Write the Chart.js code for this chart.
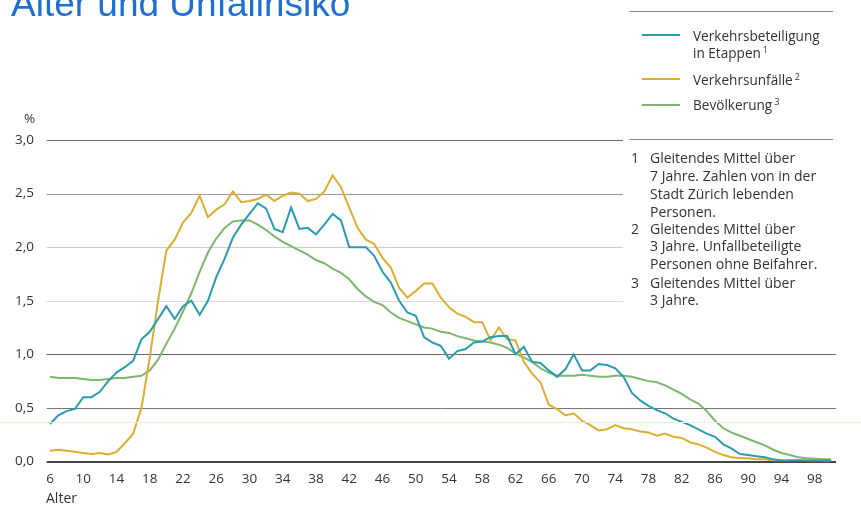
<!DOCTYPE html>
<html>
<head>
<meta charset="utf-8">
<script src="https://cdn.jsdelivr.net/npm/chart.js@4.4.1/dist/chart.umd.min.js"></script>
<style>
  html, body { margin:0; padding:0; background:#fff; }
  #wrap { position:relative; width:861px; height:506px; overflow:hidden; font-family:"Open Sans", sans-serif; color:#333; }
  canvas { position:absolute; left:0; top:0; }
  .abs { position:absolute; white-space:nowrap; }
  #title { left:11px; top:-14.8px; font-family:"Liberation Sans", Arial, sans-serif; font-size:37px; line-height:37px; color:#1e6fd4; }
  .hl { position:absolute; height:1px; background:#8a8a8a; }
  .leg { position:absolute; left:693px; font-size:13.6px; line-height:17px; color:#333; }
  .sw { position:absolute; left:642px; width:38px; height:2px; }
  sup { font-size:9px; vertical-align:0; position:relative; top:-5px; margin-left:2px; }
  .note { position:absolute; left:630px; font-size:14px; line-height:17.95px; color:#333; }
  .note .n { position:absolute; left:1px; }
  .note .t { margin-left:20px; }
</style>
</head>
<body>
<div id="wrap">
  <canvas id="c" width="861" height="506"></canvas>
  <div id="title" class="abs">Alter und Unfallrisiko</div>
  <div class="abs" style="left:0;top:422px;width:861px;height:1px;background:#dcf6d2;"></div>
  <div class="hl" style="left:629px;top:11px;width:204px;"></div>
  <div class="hl" style="left:629px;top:139px;width:204px;"></div>
  <div class="sw" style="top:33.5px;background:#2b9bb2;"></div>
  <div class="sw" style="top:78px;background:#dcae30;"></div>
  <div class="sw" style="top:103.5px;background:#7db66f;"></div>
  <div class="leg" style="top:27px;">Verkehrsbeteiligung<br>in Etappen<sup>1</sup></div>
  <div class="leg" style="top:71px;">Verkehrsunfälle<sup>2</sup></div>
  <div class="leg" style="top:96px;">Bevölkerung<sup>3</sup></div>
  <div class="note" style="top:149px;"><span class="n">1</span><div class="t">Gleitendes Mittel über<br>7 Jahre. Zahlen von in der<br>Stadt Zürich lebenden<br>Personen.</div></div>
  <div class="note" style="top:219.5px;"><span class="n">2</span><div class="t">Gleitendes Mittel über<br>3 Jahre. Unfallbeteiligte<br>Personen ohne Beifahrer.</div></div>
  <div class="note" style="top:273.5px;"><span class="n">3</span><div class="t">Gleitendes Mittel über<br>3 Jahre.</div></div>
  <div class="abs" style="left:24px;top:109px;font-size:13.5px;line-height:18px;">%</div>
  <div class="abs" style="left:46px;top:489px;font-size:14px;line-height:18px;">Alter</div>
</div>
<script>
const ages = [];
for (let a = 6; a <= 100; a++) ages.push(a);

const verkehrsbeteiligung = [
  0.35,0.43,0.47,0.49,0.60,0.60,0.65,0.75,0.83,0.88,
  0.94,1.14,1.21,1.33,1.45,1.33,1.45,1.50,1.37,1.50,
  1.72,1.89,2.09,2.21,2.31,2.41,2.36,2.17,2.14,2.37,
  2.17,2.18,2.12,2.21,2.31,2.25,2.00,2.00,2.00,1.92,
  1.77,1.67,1.50,1.39,1.36,1.16,1.11,1.08,0.96,1.03,
  1.05,1.11,1.12,1.16,1.17,1.17,1.00,1.07,0.93,0.92,
  0.85,0.79,0.86,1.00,0.85,0.85,0.91,0.90,0.87,0.79,
  0.64,0.57,0.52,0.48,0.45,0.40,0.37,0.34,0.30,0.26,
  0.23,0.16,0.12,0.07,0.06,0.05,0.04,0.02,0.01,0.01,
  0.01,0.01,0.01,0.01,0.01
];
const verkehrsunfaelle = [
  0.10,0.11,0.10,0.09,0.08,0.07,0.08,0.065,0.09,0.17,
  0.26,0.50,0.97,1.50,1.97,2.07,2.23,2.32,2.48,2.28,
  2.35,2.40,2.52,2.42,2.43,2.45,2.49,2.43,2.48,2.51,
  2.50,2.43,2.45,2.52,2.67,2.56,2.37,2.18,2.07,2.03,
  1.90,1.81,1.62,1.53,1.59,1.66,1.66,1.53,1.44,1.38,
  1.35,1.30,1.30,1.13,1.25,1.14,1.13,0.93,0.82,0.74,
  0.53,0.49,0.43,0.45,0.38,0.34,0.29,0.30,0.34,0.31,
  0.30,0.28,0.27,0.24,0.26,0.23,0.22,0.18,0.16,0.13,
  0.09,0.06,0.04,0.03,0.03,0.02,0.02,0.01,0.01,0.01,
  0.015,0.01,0.01,0.005,0.005
];
const bevoelkerung = [
  0.79,0.78,0.78,0.78,0.77,0.76,0.76,0.77,0.78,0.78,
  0.79,0.80,0.85,0.95,1.10,1.24,1.40,1.57,1.77,1.95,
  2.08,2.18,2.24,2.25,2.25,2.21,2.16,2.10,2.05,2.01,
  1.97,1.93,1.88,1.85,1.80,1.76,1.70,1.61,1.54,1.49,
  1.46,1.39,1.34,1.31,1.28,1.25,1.24,1.21,1.20,1.17,
  1.15,1.13,1.12,1.11,1.09,1.06,1.01,0.97,0.93,0.87,
  0.83,0.80,0.80,0.80,0.81,0.80,0.79,0.79,0.80,0.80,
  0.79,0.77,0.75,0.74,0.71,0.67,0.63,0.58,0.54,0.47,
  0.38,0.31,0.27,0.24,0.21,0.18,0.15,0.11,0.08,0.06,
  0.04,0.03,0.025,0.02,0.02
];
const xTicks = [6,10,14,18,22,26,30,34,38,42,46,50,54,58,62,66,70,74,78,82,86,90,94,98];
const yTicks = [0,0.5,1,1.5,2,2.5,3];

const pts = arr => ages.map((a, i) => ({ x: a, y: arr[i] }));

const gridColors = { 0:'#444', 0.5:'#777', 1:'#686868', 1.5:'#dcdcdc', 2:'#cdcdcd', 2.5:'#9a9a9a', 3:'#6a6a6a' };

const gridPlugin = {
  id: 'customGrid',
  beforeDatasetsDraw(chart) {
    const ctx = chart.ctx, y = chart.scales.y, area = chart.chartArea;
    ctx.save();
    yTicks.forEach(v => {
      const py = Math.round(y.getPixelForValue(v)) + (v === 0 ? 0 : 0.5);
      ctx.beginPath();
      ctx.strokeStyle = gridColors[v];
      ctx.lineWidth = v === 0 ? 2 : 1;
      ctx.moveTo(area.left - 3.3, py);
      ctx.lineTo(v >= 1.5 ? 623 : area.right + 4.6, py);
      ctx.stroke();
    });
    ctx.restore();
  }
};

new Chart(document.getElementById('c'), {
  type: 'line',
  data: {
    datasets: [
      { label: 'Verkehrsbeteiligung in Etappen', data: pts(verkehrsbeteiligung), borderColor: '#2b9bb2', borderWidth: 2, pointRadius: 0, tension: 0, fill: false },
      { label: 'Verkehrsunfälle', data: pts(verkehrsunfaelle), borderColor: '#dcae30', borderWidth: 2, pointRadius: 0, tension: 0, fill: false },
      { label: 'Bevölkerung', data: pts(bevoelkerung), borderColor: '#7db66f', borderWidth: 2, pointRadius: 0, tension: 0, fill: false }
    ]
  },
  options: {
    responsive: false,
    animation: false,
    events: [],
    layout: { padding: { left: 0, top: 140, right: 29.6, bottom: 0 } },
    plugins: { legend: { display: false }, tooltip: { enabled: false }, title: { display: false } },
    scales: {
      x: {
        type: 'linear', min: 6, max: 100,
        grid: { display: false }, border: { display: false },
        afterBuildTicks: s => { s.ticks = xTicks.map(v => ({ value: v })); },
        afterFit: s => { s.height = 44.5; },
        ticks: { autoSkip: false, maxRotation: 0, padding: 2, color: '#333', font: { family: 'Open Sans', size: 13.5 }, callback: v => String(v) }
      },
      y: {
        min: 0, max: 3,
        grid: { display: false }, border: { display: false },
        afterBuildTicks: s => { s.ticks = yTicks.map(v => ({ value: v })); },
        afterFit: s => { s.width = 50; },
        ticks: { padding: 8, color: '#333', font: { family: 'Open Sans', size: 13.5 }, callback: v => v.toFixed(1).replace('.', ',') }
      }
    }
  },
  plugins: [gridPlugin]
});
</script>
</body>
</html>
